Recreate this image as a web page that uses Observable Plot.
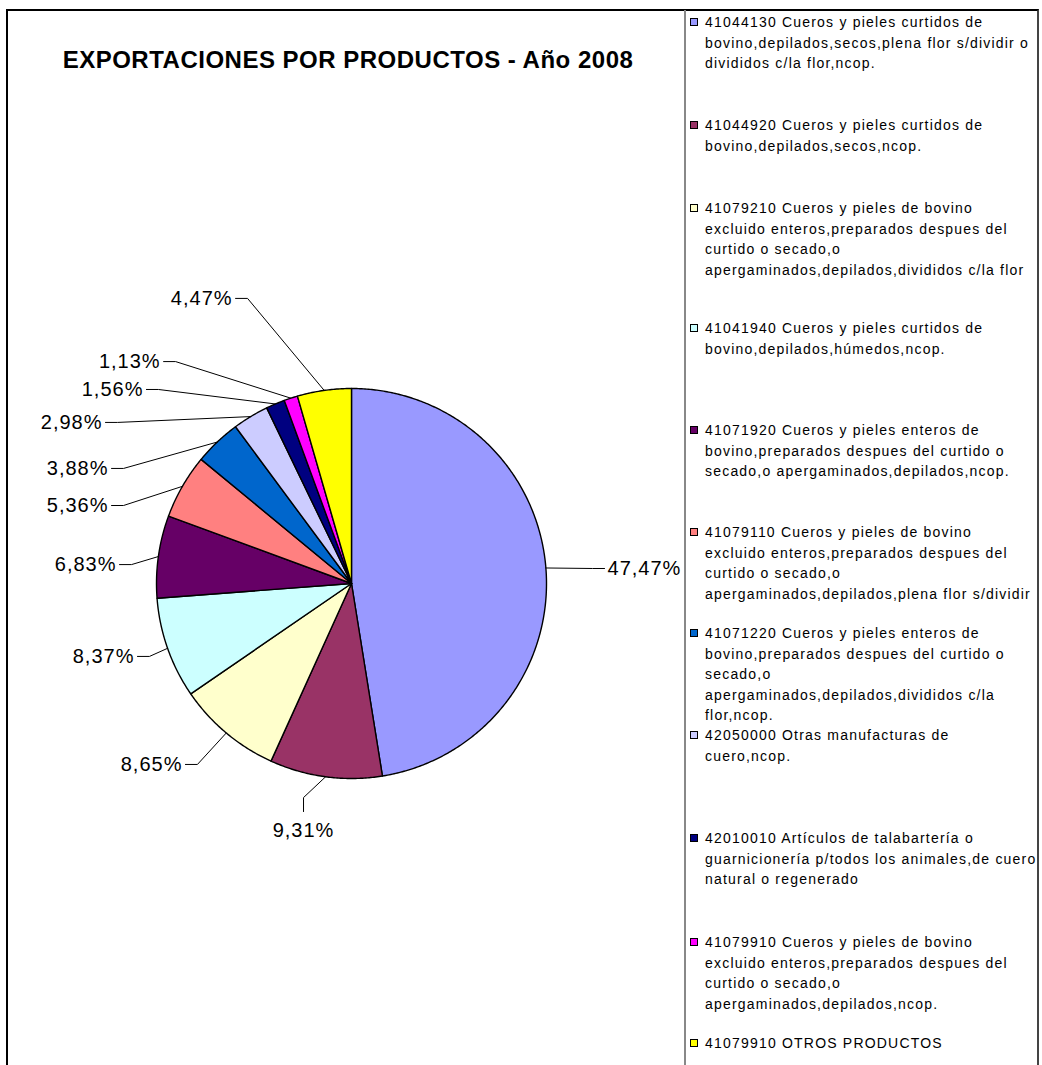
<!DOCTYPE html>
<html><head><meta charset="utf-8">
<script src="https://cdn.jsdelivr.net/npm/d3@7"></script>
<script src="https://cdn.jsdelivr.net/npm/@observablehq/plot@0.6"></script>
<style>
html,body{margin:0;padding:0;background:#fff;}
#wrap{position:relative;width:1042px;height:1065px;overflow:hidden;font-family:"Liberation Sans",Arial,sans-serif;color:#000;}
#frame{position:absolute;left:6px;top:9px;width:1029px;height:1100px;border-top:2px solid #000;border-left:2px solid #000;border-right:2px solid #444;}
#legendline{position:absolute;left:684px;top:10px;width:0;height:1100px;border-left:2px solid #888;}
#title{position:absolute;left:8px;width:680px;top:45px;text-align:center;font-weight:bold;font-size:24px;line-height:30px;letter-spacing:0.5px;white-space:nowrap;}
.entry{position:absolute;left:705px;font-size:14px;line-height:20.5px;letter-spacing:1.2px;white-space:nowrap;}
.sw{position:absolute;left:690px;width:6px;height:6px;border:1px solid #000;}
#wrap svg{position:absolute;left:0;top:0;overflow:visible;}
</style></head>
<body><div id="wrap"><div id="frame"></div><div id="legendline"></div></div>
<script>
// ---- data ----
const title = "EXPORTACIONES POR PRODUCTOS - Año 2008";
const codes = ["41044130","41044920","41079210","41041940","41071920","41079110","41071220","42050000","42010010","41079910","41079910"];
const shares = [47.47, 9.31, 8.65, 8.37, 6.83, 5.36, 3.88, 2.98, 1.56, 1.13, 4.47];
const shareLabels = ["47,47%","9,31%","8,65%","8,37%","6,83%","5,36%","3,88%","2,98%","1,56%","1,13%","4,47%"];
const legendLines = [
  ["41044130 Cueros y pieles curtidos de","bovino,depilados,secos,plena flor s/dividir o","divididos c/la flor,ncop."],
  ["41044920 Cueros y pieles curtidos de","bovino,depilados,secos,ncop."],
  ["41079210 Cueros y pieles de bovino","excluido enteros,preparados despues del","curtido o secado,o","apergaminados,depilados,divididos c/la flor"],
  ["41041940 Cueros y pieles curtidos de","bovino,depilados,húmedos,ncop."],
  ["41071920 Cueros y pieles enteros de","bovino,preparados despues del curtido o","secado,o apergaminados,depilados,ncop."],
  ["41079110 Cueros y pieles de bovino","excluido enteros,preparados despues del","curtido o secado,o","apergaminados,depilados,plena flor s/dividir"],
  ["41071220 Cueros y pieles enteros de","bovino,preparados despues del curtido o","secado,o","apergaminados,depilados,divididos c/la","flor,ncop."],
  ["42050000 Otras manufacturas de","cuero,ncop."],
  ["42010010 Artículos de talabartería o","guarnicionería p/todos los animales,de cuero","natural o regenerado"],
  ["41079910 Cueros y pieles de bovino","excluido enteros,preparados despues del","curtido o secado,o","apergaminados,depilados,ncop."],
  ["41079910 OTROS PRODUCTOS"]
];
const colors = ["#9999FF","#993366","#FFFFCC","#CCFFFF","#660066","#FF8080","#0066CC","#CCCCFF","#000080","#FF00FF","#FFFF00"];

// ---- layout (not data) ----
const W = 1042, H = 1065, R = 195, cx = 351, cy = 583;
// label anchors in pie-radius units, relative to pie centre (as placed in the reference)
const labelAt = [[1.313,0.077],[-0.246,-1.267],[-0.867,-0.928],[-1.113,-0.374],[-1.205,0.097],[-1.246,0.400],[-1.246,0.590],[-1.277,0.826],[-1.067,0.995],[-0.979,1.138],[-0.610,1.462]];
const legendCenters = [22,125,208,328,430,532,633,735,838,942,1043];

// ---- build ----
const wrap = document.getElementById("wrap");
const arcs = d3.pie().sort(null).value(d => d)(shares);
const slicePts = [];
arcs.forEach((a, i) => {
  slicePts.push({k: i, x: 0, y: 0, c: colors[i]});
  const n = Math.max(2, Math.ceil((a.endAngle - a.startAngle) / (Math.PI / 360)));
  for (let j = 0; j <= n; j++) {
    const t = a.startAngle + (a.endAngle - a.startAngle) * j / n;
    slicePts.push({k: i, x: Math.sin(t), y: Math.cos(t), c: colors[i]});
  }
  slicePts.push({k: i, x: 0, y: 0, c: colors[i]});
});

const labels = arcs.map((a, i) => {
  const m = (a.startAngle + a.endAngle) / 2;
  const ex = Math.sin(m), ey = Math.cos(m);
  const [lx, ly] = labelAt[i];
  let side = "end";
  if (lx > ex + 0.1) side = "start";
  else if (Math.abs(lx - ex) < 0.15 && ly < ey) side = "middle";
  let att, elb;
  if (side === "end") { att = [lx + 3/R, ly]; elb = [lx + 15/R, ly]; }
  else if (side === "start") { att = [lx - 3/R, ly]; elb = [lx - 15/R, ly]; }
  else { att = [lx, ly + 19/R]; elb = [lx, ly + 33/R]; }
  return {i, ex, ey, lx, ly, side, att, elb, text: shareLabels[i]};
});
const leaderPts = labels.flatMap(d => [
  {k: d.i, x: d.ex, y: d.ey},
  {k: d.i, x: d.elb[0], y: d.elb[1]},
  {k: d.i, x: d.att[0], y: d.att[1]}
]);

const font = "Liberation Sans, Arial, sans-serif";
const textMark = (side, anchor) => Plot.text(labels.filter(d => d.side === side), {
  x: "lx", y: "ly", text: "text", textAnchor: anchor, fontSize: 20, fill: "#000", fontFamily: font
});

const chart = Plot.plot({
  width: W, height: H, margin: 0,
  x: {domain: [-cx / R, (W - cx) / R], axis: null},
  y: {domain: [-(H - cy) / R, cy / R], axis: null},
  color: {type: "identity"},
  style: {background: "transparent", fontFamily: font, letterSpacing: "1px"},
  marks: [
    Plot.line(slicePts, {x: "x", y: "y", z: "k", fill: "c", stroke: "#000", strokeWidth: 1.4, strokeLinejoin: "round"}),
    Plot.line(leaderPts, {x: "x", y: "y", z: "k", stroke: "#000", strokeWidth: 1}),
    textMark("end", "end"),
    textMark("start", "start"),
    textMark("middle", "middle")
  ]
});
wrap.appendChild(chart);

const t = document.createElement("div");
t.id = "title"; t.textContent = title;
wrap.appendChild(t);

legendLines.forEach((lines, i) => {
  const top = legendCenters[i] - 10;
  const sw = document.createElement("div");
  sw.className = "sw";
  sw.style.top = (legendCenters[i] - 4) + "px";
  sw.style.background = colors[i];
  wrap.appendChild(sw);
  const e = document.createElement("div");
  e.className = "entry";
  e.style.top = top + "px";
  lines.forEach((ln, j) => {
    const s = document.createElement("div");
    s.textContent = ln;
    e.appendChild(s);
  });
  wrap.appendChild(e);
});
</script></body></html>
